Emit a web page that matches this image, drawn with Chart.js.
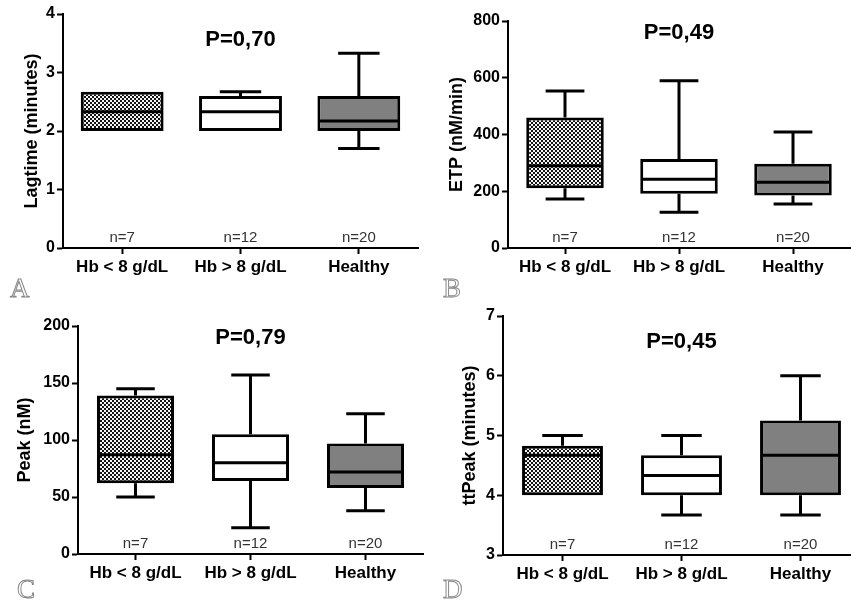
<!DOCTYPE html>
<html><head><meta charset="utf-8">
<script src="https://cdn.jsdelivr.net/npm/chart.js@4"></script>
<style>
html,body{margin:0;padding:0;background:#fff;overflow:hidden;width:851px;height:602px;position:relative;}
canvas{position:absolute;}
</style></head><body>
<canvas id="cA" width="425" height="300" style="left:0;top:0"></canvas>
<canvas id="cB" width="426" height="300" style="left:425px;top:0"></canvas>
<canvas id="cC" width="425" height="302" style="left:0;top:300px"></canvas>
<canvas id="cD" width="435" height="302" style="left:425px;top:300px"></canvas>
<script>
// ---- data ----
const categories = ['Hb < 8 g/dL', 'Hb > 8 g/dL', 'Healthy'];
const nLabels = ['n=7', 'n=12', 'n=20'];

const lagMin = [2.0, 2.0, 1.7];
const lagQ1 = [2.0, 2.0, 2.0];
const lagMed = [2.33, 2.33, 2.17];
const lagQ3 = [2.67, 2.6, 2.6];
const lagMax = [2.67, 2.67, 3.33];
const lagTicks = [0, 4, 1];

const etpMin = [173, 126, 155];
const etpQ1 = [211, 191, 185];
const etpMed = [290, 242, 232];
const etpQ3 = [460, 314, 297];
const etpMax = [553, 589, 409];
const etpTicks = [0, 800, 200];

const peakMin = [50, 23, 38];
const peakQ1 = [62, 64, 58];
const peakMed = [87, 80, 72];
const peakQ3 = [139, 105, 97];
const peakMax = [145, 157, 123];
const peakTicks = [0, 200, 50];

const ttMin = [4.0, 3.67, 3.67];
const ttQ1 = [4.0, 4.0, 4.0];
const ttMed = [4.67, 4.33, 4.67];
const ttQ3 = [4.83, 4.67, 5.25];
const ttMax = [5.0, 5.0, 6.0];
const ttTicks = [3, 7, 1];

const pValues = ['P=0,70', 'P=0,49', 'P=0,79', 'P=0,45'];
const yTitles = ['Lagtime (minutes)', 'ETP (nM/min)', 'Peak (nM)', 'ttPeak (minutes)'];
const panelLetters = ['A', 'B', 'C', 'D'];

// ---- drawing helpers ----
function makePattern(ctx) {
  const t = document.createElement('canvas');
  t.width = 4; t.height = 4;
  const g = t.getContext('2d');
  g.fillStyle = '#f4f4f4'; g.fillRect(0, 0, 4, 4);
  g.fillStyle = '#141414';
  g.fillRect(0, 0, 2, 2); g.fillRect(2, 2, 2, 2);
  return ctx.createPattern(t, 'repeat');
}

const boxPlugin = {
  id: 'boxExtras',
  afterDatasetsDraw(chart, args, o) {
    const ctx = chart.ctx, y = chart.scales.y;
    const meta = chart.getDatasetMeta(0);
    ctx.save();
    ctx.strokeStyle = '#000'; ctx.lineWidth = 3; ctx.lineCap = 'butt';
    meta.data.forEach((bar, i) => {
      const x = bar.x, w = bar.width;
      const pMin = y.getPixelForValue(o.mins[i]);
      const pQ1 = y.getPixelForValue(o.q1[i]);
      const pMed = y.getPixelForValue(o.med[i]);
      const pQ3 = y.getPixelForValue(o.q3[i]);
      const pMax = y.getPixelForValue(o.maxs[i]);
      ctx.beginPath();
      if (o.maxs[i] > o.q3[i]) {
        ctx.moveTo(x, pQ3); ctx.lineTo(x, pMax);
        ctx.moveTo(x - w / 4, pMax); ctx.lineTo(x + w / 4, pMax);
      }
      if (o.mins[i] < o.q1[i]) {
        ctx.moveTo(x, pQ1); ctx.lineTo(x, pMin);
        ctx.moveTo(x - w / 4, pMin); ctx.lineTo(x + w / 4, pMin);
      }
      ctx.moveTo(x - w / 2 + 2, pMed); ctx.lineTo(x + w / 2 - 2, pMed);
      ctx.stroke();
    });
    ctx.restore();
  },
  afterDraw(chart, args, o) {
    const ctx = chart.ctx, ca = chart.chartArea, xs = chart.scales.x;
    ctx.save();
    ctx.fillStyle = '#000';
    ctx.font = 'bold 22px "Liberation Sans", Arial, sans-serif';
    ctx.textAlign = 'center'; ctx.textBaseline = 'middle';
    ctx.fillText(o.pText, (ca.left + ca.right) / 2, ca.top + o.pOffset);
    ctx.font = '15px "Liberation Sans", Arial, sans-serif';
    ctx.fillStyle = '#333';
    o.nLabels.forEach((t, i) => {
      ctx.fillText(t, xs.getPixelForValue(i), ca.bottom - 10);
    });
    ctx.font = '27px "Liberation Serif", "DejaVu Serif", serif';
    ctx.textAlign = 'left'; ctx.textBaseline = 'alphabetic';
    ctx.strokeStyle = '#888'; ctx.lineWidth = 1;
    ctx.strokeText(o.letter, o.letterX, o.letterY);
    ctx.restore();
  }
};

function makePanel(id, idx, mins, q1, med, q3, maxs, ticks, lay) {
  const canvas = document.getElementById(id);
  const ctx = canvas.getContext('2d');
  const pat = makePattern(ctx);
  new Chart(ctx, {
    type: 'bar',
    data: {
      labels: categories,
      datasets: [{
        data: q1.map((v, i) => [v, q3[i]]),
        backgroundColor: [pat, '#ffffff', '#808080'],
        borderColor: '#000',
        borderWidth: 3,
        borderSkipped: false,
        barPercentage: lay.barPct,
        categoryPercentage: 1
      }]
    },
    options: {
      responsive: false,
      animation: false,
      layout: { padding: { left: 0, top: lay.top, right: lay.right, bottom: lay.bottom } },
      plugins: {
        legend: { display: false },
        tooltip: { enabled: false },
        boxExtras: {
          mins, q1, med, q3, maxs,
          nLabels, pText: pValues[idx], pOffset: lay.pOffset,
          letter: panelLetters[idx], letterX: lay.lx, letterY: lay.ly
        }
      },
      scales: {
        x: {
          offset: true,
          grid: { display: true, offset: false, drawOnChartArea: false, drawTicks: true, tickLength: 6, tickWidth: 2, tickColor: '#000' },
          border: { display: true, color: '#000', width: 2 },
          ticks: { color: '#000', padding: 3, font: { family: '"Liberation Sans", Arial, sans-serif', size: 17, weight: 'bold' }, maxRotation: 0, autoSkip: false },
          afterFit: s => { s.height = 40; }
        },
        y: {
          min: ticks[0], max: ticks[1],
          grid: { display: true, drawOnChartArea: false, drawTicks: true, tickLength: 6, tickWidth: 2, tickColor: '#000' },
          border: { display: true, color: '#000', width: 2 },
          ticks: { stepSize: ticks[2], color: '#000', padding: 2, font: { family: '"Liberation Sans", Arial, sans-serif', size: 16, weight: 'bold' } },
          title: { display: true, text: yTitles[idx], color: '#000', padding: { top: lay.tpad, bottom: 0 }, font: { family: '"Liberation Sans", Arial, sans-serif', size: 18, weight: 'bold' } },
          afterFit: s => { s.width = lay.yw; }
        }
      }
    },
    plugins: [boxPlugin]
  });
}

makePanel('cA', 0, lagMin, lagQ1, lagMed, lagQ3, lagMax, lagTicks,
  { top: 14, right: 7, bottom: 12, yw: 63, tpad: 21, barPct: 0.7, pOffset: 26, lx: 10, ly: 297 });
makePanel('cB', 1, etpMin, etpQ1, etpMed, etpQ3, etpMax, etpTicks,
  { top: 21, right: 1, bottom: 12, yw: 83, tpad: 21, barPct: 0.68, pOffset: 12, lx: 18, ly: 297 });
makePanel('cC', 2, peakMin, peakQ1, peakMed, peakQ3, peakMax, peakTicks,
  { top: 26, right: 2, bottom: 8, yw: 78, tpad: 14, barPct: 0.67, pOffset: 12, lx: 17, ly: 298 });
makePanel('cD', 3, ttMin, ttQ1, ttMed, ttQ3, ttMax, ttTicks,
  { top: 16, right: 0, bottom: 7, yw: 78, tpad: 34, barPct: 0.68, pOffset: 26, lx: 18, ly: 298 });
</script>
</body></html>
